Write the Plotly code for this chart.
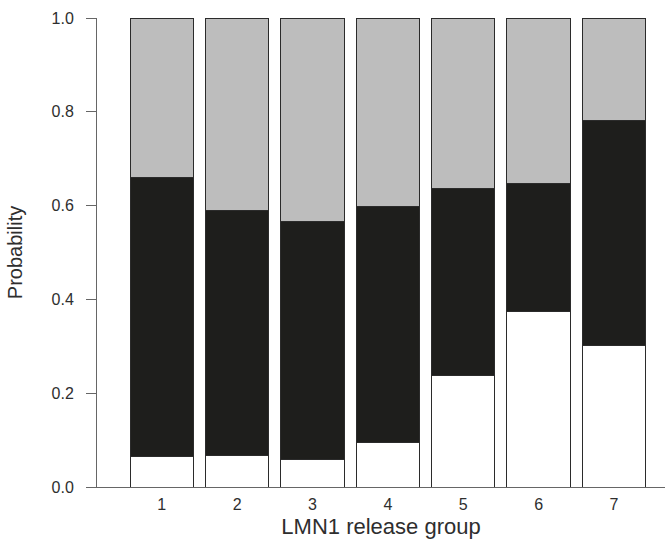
import plotly.graph_objects as go

groups = [1, 2, 3, 4, 5, 6, 7]
tick_labels = ["1", "2", "3", "4", "5", "6", "7"]
p_white = [0.066, 0.067, 0.059, 0.094, 0.238, 0.375, 0.301]
p_black = [0.593, 0.522, 0.507, 0.504, 0.399, 0.272, 0.481]
p_gray = [0.341, 0.411, 0.434, 0.402, 0.363, 0.353, 0.218]

font_family = "Liberation Sans, Arial, Helvetica, sans-serif"
outline = dict(color="#2b2b2b", width=1)

fig = go.Figure()
for name, vals, col in [("low", p_white, "#ffffff"),
                        ("mid", p_black, "#1e1e1c"),
                        ("high", p_gray, "#bdbdbd")]:
    fig.add_trace(go.Bar(x=groups, y=vals, name=name, width=0.84,
                         marker=dict(color=col, line=outline),
                         showlegend=False, hoverinfo="y"))

fig.update_layout(
    barmode="stack",
    width=665, height=542,
    margin=dict(l=97, r=0, t=18, b=55, autoexpand=False),
    paper_bgcolor="white", plot_bgcolor="white",
    font=dict(family=font_family, color="#2e2e2e", size=16),
    xaxis=dict(
        range=[0.142, 7.676], tickvals=groups, ticktext=tick_labels,
        showgrid=False, zeroline=False, showline=True, linecolor="#666666",
        linewidth=1, ticks="", tickfont=dict(size=16),
        ticklabelstandoff=3,
        title=dict(text="LMN1 release group", font=dict(size=22), standoff=6),
        automargin=False,
    ),
    yaxis=dict(
        range=[0, 1], tickvals=[0, 0.2, 0.4, 0.6, 0.8, 1.0],
        ticktext=["0.0", "0.2", "0.4", "0.6", "0.8", "1.0"],
        showgrid=False, zeroline=False, showline=True, linecolor="#666666",
        linewidth=1, ticks="outside", ticklen=10, tickcolor="#666666",
        tickwidth=1, tickfont=dict(size=16), ticklabelstandoff=9,
        title=dict(text="Probability", font=dict(size=20), standoff=23),
        automargin=False,
    ),
)

fig.write_html("out.html")
